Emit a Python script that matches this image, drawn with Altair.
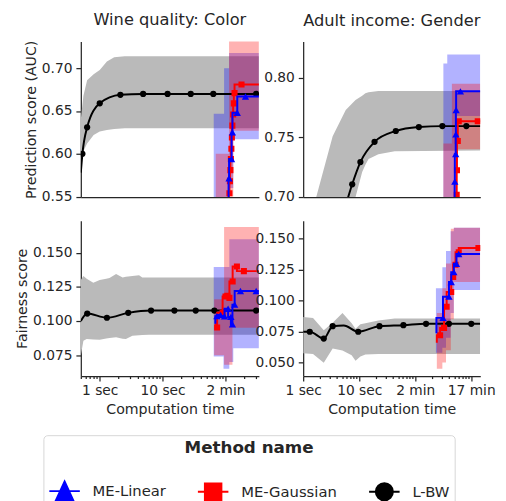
import altair as alt
import pandas as pd

FONT = "DejaVu Sans"
TXT = "#262626"

methods = ["ME-Linear", "ME-Gaussian", "L-BW"]
method_colors = ["#0000ff", "#ff0000", "#000000"]
legend_paths = [
    "M-1,0H1M0,-0.63L0.58,0.63L-0.58,0.63Z",
    "M-1,0H1M-0.54,-0.54H0.54V0.54H-0.54Z",
    "M-1,0H1M0.56,0A0.56,0.56,0,1,1,-0.56,0A0.56,0.56,0,1,1,0.56,0Z",
]

major_ticks = [1, 10, 100, 1000]
major_labels = ["1 sec", "10 sec", "2 min", "17 min"]
panel_titles = ["Wine quality: Color", "Adult income: Gender"]
y_titles = ["Prediction score (AUC)", "Fairness score"]
x_title = "Computation time"

# ---------------- Wine quality: prediction (top-left) ----------------
tl_gray_t = [0.5, 0.55, 0.63, 0.8, 1.0, 1.3, 1.7, 2.5, 340]
tl_gray_hi = [0.640, 0.668, 0.686, 0.693, 0.698, 0.708, 0.713, 0.714, 0.714]
tl_gray_lo = [0.595, 0.603, 0.612, 0.622, 0.626, 0.628, 0.629, 0.630, 0.630]
tl_lbw_t = [0.5, 0.53, 0.63, 1.0, 2.13, 4.9, 12, 28, 64, 308, 340]
tl_lbw_v = [0.578, 0.600, 0.631, 0.659, 0.669, 0.670, 0.670, 0.670, 0.670, 0.670, 0.670]
tl_lbw_m = [False, True, True, True, True, True, True, True, True, True, False]
tl_lin_band_t = [65, 95, 114, 133, 340]
tl_lin_band_lo = [0.50, 0.50, 0.56, 0.617, 0.617]
tl_lin_band_hi = [0.647, 0.700, 0.718, 0.718, 0.718]
tl_gau_band_t = [70, 114, 133, 340]
tl_gau_band_lo = [0.50, 0.55, 0.627, 0.627]
tl_gau_band_hi = [0.600, 0.745, 0.745, 0.745]
tl_lin_t = [112, 114, 125, 129, 154, 208, 340]
tl_lin_v = [0.52, 0.5715, 0.594, 0.625, 0.648, 0.667, 0.667]
tl_lin_m = [False, True, True, True, True, True, False]
tl_gau_t = [113, 115.5, 117.6, 119.7, 121.9, 124.1, 126.4, 128.7, 132.4, 135.8, 139.3, 179.8, 340]
tl_gau_v = [0.53, 0.554, 0.568, 0.581, 0.594, 0.606, 0.619, 0.633, 0.646, 0.659, 0.671, 0.681, 0.681]
tl_gau_m = [False] + [True] * 11 + [False]

# ---------------- Adult income: prediction (top-right) ----------------
tr_gray_t = [1.0, 1.71, 3.36, 5.75, 8.6, 11.3, 12.9, 14.7, 22, 43, 1450]
tr_gray_hi = [0.660, 0.700, 0.751, 0.773, 0.7814, 0.785, 0.787, 0.788, 0.789, 0.789, 0.789]
tr_gray_lo = [0.580, 0.620, 0.640, 0.670, 0.700, 0.721, 0.727, 0.732, 0.736, 0.7384, 0.739]
tr_lbw_t = [5.5, 7.5, 10.5, 18.8, 45, 116, 305, 817, 1450]
tr_lbw_v = [0.690, 0.7107, 0.7293, 0.7463, 0.7554, 0.7587, 0.7595, 0.7595, 0.7595]
tr_lbw_m = [False, True, True, True, True, True, True, True, False]
tr_lin_band_t = [318, 373, 489, 548, 1450]
tr_lin_band_lo = [0.65, 0.65, 0.65, 0.768, 0.768]
tr_lin_band_hi = [0.812, 0.8195, 0.8195, 0.8195, 0.8195]
tr_gau_band_t = [318, 451, 548, 1450]
tr_gau_band_lo = [0.65, 0.65, 0.740, 0.740]
tr_gau_band_hi = [0.745, 0.795, 0.795, 0.795]
tr_lin_t = [505, 509, 528, 532, 537, 641, 1450]
tr_lin_v = [0.68, 0.713, 0.736, 0.7526, 0.773, 0.7887, 0.7887]
tr_lin_m = [False, True, True, True, True, True, False]
tr_gau_t = [548, 550, 556, 575, 598, 1306, 1450]
tr_gau_v = [0.68, 0.702, 0.7225, 0.747, 0.7636, 0.7636, 0.7636]
tr_gau_m = [False, True, True, True, True, True, False]

# ---------------- Wine quality: fairness (bottom-left) ----------------
bl_gray_t = [0.5, 0.55, 0.62, 0.79, 1.0, 1.27, 1.43, 1.82, 2.31, 2.61, 3.31, 4.22, 4.75, 6.05, 340]
bl_gray_hi = [0.130, 0.133, 0.131, 0.128, 0.130, 0.131, 0.1315, 0.1344, 0.132, 0.1325, 0.133, 0.1335, 0.132, 0.132, 0.132]
bl_gray_lo = [0.0748, 0.0856, 0.0868, 0.0865, 0.0862, 0.0872, 0.0875, 0.0882, 0.0870, 0.0868, 0.0892, 0.0895, 0.0898, 0.0900, 0.0900]
bl_lbw_t = [0.5, 0.633, 1.30, 2.84, 6.55, 15.4, 33.6, 66.5, 308, 340]
bl_lbw_v = [0.100, 0.1055, 0.1024, 0.106, 0.1077, 0.1077, 0.1077, 0.1077, 0.1077, 0.1077]
bl_lbw_m = [False, True, True, True, True, True, True, True, True, False]
bl_lin_band_t = [65, 93, 115, 133, 340]
bl_lin_band_lo = [0.074, 0.065, 0.070, 0.080, 0.080]
bl_lin_band_hi = [0.1396, 0.1396, 0.160, 0.160, 0.160]
bl_gau_band_t = [66, 95, 129, 340]
bl_gau_band_lo = [0.075, 0.068, 0.095, 0.095]
bl_gau_band_hi = [0.116, 0.169, 0.169, 0.169]
bl_lin_t = [69, 73, 83.5, 96.5, 110, 122, 129, 140, 173, 308, 340]
bl_lin_v = [0.098, 0.1036, 0.1045, 0.1035, 0.109, 0.103, 0.0976, 0.112, 0.122, 0.122, 0.122]
bl_lin_m = [False, True, True, True, True, True, True, True, True, True, False]
bl_gau_t = [71, 73.6, 90, 100, 107, 115.5, 130, 152, 196, 340]
bl_gau_v = [0.100, 0.0952, 0.106, 0.118, 0.1185, 0.117, 0.129, 0.140, 0.1366, 0.1366]
bl_gau_m = [False, True, True, True, True, True, True, True, True, False]

# ---------------- Adult income: fairness (bottom-right) ----------------
br_gray_t = [1.0, 1.5, 2.33, 3.36, 5.03, 7.33, 8.6, 10.5, 12.9, 22, 43, 1438]
br_gray_hi = [0.0868, 0.086, 0.0762, 0.0821, 0.090, 0.0818, 0.0773, 0.081, 0.0818, 0.084, 0.0855, 0.0855]
br_gray_lo = [0.0575, 0.057, 0.0498, 0.0614, 0.0597, 0.056, 0.0516, 0.055, 0.0565, 0.0569, 0.0569, 0.0569]
br_lbw_t = [1.0, 1.31, 2.33, 3.36, 5.3, 9.6, 23, 61.5, 156, 400, 1000, 1438]
br_lbw_v = [0.0749, 0.0749, 0.0694, 0.0794, 0.0800, 0.0749, 0.0794, 0.0802, 0.0813, 0.0813, 0.0813, 0.0813]
br_lbw_m = [False, True, True, True, False, True, True, True, True, True, True, False]
br_lin_band_t = [234, 305, 354, 428, 489, 1438]
br_lin_band_lo = [0.058, 0.062, 0.070, 0.090, 0.1085, 0.1085]
br_lin_band_hi = [0.110, 0.127, 0.140, 0.156, 0.1587, 0.1587]
br_gau_band_t = [243, 305, 354, 432, 489, 1438]
br_gau_band_lo = [0.045, 0.050, 0.060, 0.085, 0.115, 0.115]
br_gau_band_hi = [0.090, 0.110, 0.130, 0.158, 0.1587, 0.1587]
br_lin_t = [239, 313, 400, 439, 489, 545, 598, 1438]
br_lin_v = [0.0736, 0.0861, 0.1032, 0.115, 0.123, 0.1297, 0.1376, 0.1376]
br_lin_m = [False, True, True, True, True, True, True, False]
br_gau_t = [243, 278, 327, 364, 439, 476, 524, 598, 1343, 1438]
br_gau_v = [0.066, 0.072, 0.078, 0.095, 0.107, 0.119, 0.129, 0.139, 0.1424, 0.1424]
br_gau_m = [False, True, True, True, True, True, True, True, True, False]


def line_df(t, v, m):
    return pd.DataFrame({"t": t, "v": v, "m": m})


def band_df(t, lo, hi):
    return pd.DataFrame({"t": t, "lo": lo, "hi": hi})


def minor_ticks(lo, hi):
    out = []
    for e in range(-1, 4):
        for k in range(2, 10):
            val = k * 10.0 ** e
            if lo <= val <= hi:
                out.append(val)
    return out


label_expr = " : ".join(
    f"datum.value == {v} ? '{l}'" for v, l in zip(major_ticks, major_labels)
) + " : ''"
major_test = "indexof([" + ",".join(str(v) for v in major_ticks) + "], datum.value) < 0"


def panel(xdom, ydom, yticks, yfmt, width, gray, lin_band, gau_band, lbw, lin, gau,
          bottom, ytitle, title=None, extra=None):
    xs = alt.Scale(type="log", domain=xdom, nice=False)
    ys = alt.Scale(domain=ydom, nice=False, zero=False)
    if bottom:
        vals = sorted([v for v in major_ticks if xdom[0] <= v <= xdom[1]] + minor_ticks(*xdom))
        xaxis = alt.Axis(values=vals, labelExpr=label_expr, title=x_title,
                         labelFlush=False, labelOverlap=False, labelPadding=3,
                         titlePadding=5, tickSize=5,
                         tickDash={"condition": {"test": major_test, "value": [2.5, 20]},
                                   "value": [6, 0]})
    else:
        xaxis = alt.Axis(labels=False, ticks=False, title=None, domain=True)
    yaxis = alt.Axis(values=yticks, format=yfmt, title=ytitle)
    X = alt.X("t:Q", scale=xs, axis=xaxis)

    def area(df, color, opacity, interp):
        return alt.Chart(df).mark_area(color=color, opacity=opacity, interpolate=interp,
                                       clip=True).encode(
            x=X, y=alt.Y("lo:Q", scale=ys, axis=yaxis), y2="hi:Q")

    def line(df, color, interp):
        return alt.Chart(df).mark_line(color=color, strokeWidth=2, interpolate=interp,
                                       clip=True).encode(
            x=X, y=alt.Y("v:Q", scale=ys, axis=yaxis))

    def pts(df, color, shape, size):
        return alt.Chart(df).transform_filter(alt.datum.m).mark_point(
            filled=True, color=color, shape=shape, size=size, opacity=1, clip=True).encode(
            x=X, y=alt.Y("v:Q", scale=ys, axis=yaxis))

    layers = [
        area(gray, "#bababa", 1, "linear"),
        area(lin_band, "#0000ff", 0.3, "step-after"),
        area(gau_band, "#ff0000", 0.3, "step-after"),
        line(lbw, "#000000", "monotone"),
        pts(lbw, "#000000", "circle", 40),
        line(gau, "#ff0000", "step-before"),
        pts(gau, "#ff0000", "square", 38),
        line(lin, "#0000ff", "step-before"),
        pts(lin, "#0000ff", "triangle-up", 55),
    ]
    if extra is not None:
        layers.append(extra)
    ch = alt.layer(*layers).properties(width=width, height=158)
    if title:
        ch = ch.properties(title=title)
    return ch


legend_spec = alt.Legend(
    title="Method name", orient="none", legendX=-38, legendY=400,
    direction="horizontal", columns=3, titleFontSize=17, titleFontWeight="bold",
    titleFont=FONT, titleColor=TXT, titleAnchor="middle", titleAlign="center",
    titlePadding=18, labelFontSize=15, labelFont=FONT, labelColor=TXT,
    labelOffset=12, columnPadding=28, symbolSize=961, symbolStrokeWidth=2,
    padding=5, strokeColor="#d6d6d6", cornerRadius=4, fillColor="white",
    labelLimit=300, titleLimit=400,
)
legend_df = pd.DataFrame({"method": methods})
legend_layer = alt.Chart(legend_df).transform_filter("false").mark_point(
    filled=True, strokeWidth=2, opacity=1).encode(
    fill=alt.Fill("method:N", scale=alt.Scale(domain=methods, range=method_colors), legend=legend_spec),
    stroke=alt.Stroke("method:N", scale=alt.Scale(domain=methods, range=method_colors), legend=legend_spec),
    shape=alt.Shape("method:N", scale=alt.Scale(domain=methods, range=legend_paths), legend=legend_spec),
)

tl = panel([0.5, 340], [0.5495, 0.7312], [0.55, 0.60, 0.65, 0.70], ".2f", 181,
           band_df(tl_gray_t, tl_gray_lo, tl_gray_hi),
           band_df(tl_lin_band_t, tl_lin_band_lo, tl_lin_band_hi),
           band_df(tl_gau_band_t, tl_gau_band_lo, tl_gau_band_hi),
           line_df(tl_lbw_t, tl_lbw_v, tl_lbw_m),
           line_df(tl_lin_t, tl_lin_v, tl_lin_m),
           line_df(tl_gau_t, tl_gau_v, tl_gau_m),
           False, y_titles[0], panel_titles[0])
tr = panel([1, 1450], [0.70, 0.8304], [0.70, 0.75, 0.80], ".2f", 180,
           band_df(tr_gray_t, tr_gray_lo, tr_gray_hi),
           band_df(tr_lin_band_t, tr_lin_band_lo, tr_lin_band_hi),
           band_df(tr_gau_band_t, tr_gau_band_lo, tr_gau_band_hi),
           line_df(tr_lbw_t, tr_lbw_v, tr_lbw_m),
           line_df(tr_lin_t, tr_lin_v, tr_lin_m),
           line_df(tr_gau_t, tr_gau_v, tr_gau_m),
           False, None, panel_titles[1])
bl = panel([0.5, 340], [0.0596, 0.1736], [0.075, 0.100, 0.125, 0.150], ".3f", 181,
           band_df(bl_gray_t, bl_gray_lo, bl_gray_hi),
           band_df(bl_lin_band_t, bl_lin_band_lo, bl_lin_band_hi),
           band_df(bl_gau_band_t, bl_gau_band_lo, bl_gau_band_hi),
           line_df(bl_lbw_t, bl_lbw_v, bl_lbw_m),
           line_df(bl_lin_t, bl_lin_v, bl_lin_m),
           line_df(bl_gau_t, bl_gau_v, bl_gau_m),
           True, y_titles[1])
br = panel([1, 1450], [0.0391, 0.1645], [0.050, 0.075, 0.100, 0.125, 0.150], ".3f", 180,
           band_df(br_gray_t, br_gray_lo, br_gray_hi),
           band_df(br_lin_band_t, br_lin_band_lo, br_lin_band_hi),
           band_df(br_gau_band_t, br_gau_band_lo, br_gau_band_hi),
           line_df(br_lbw_t, br_lbw_v, br_lbw_m),
           line_df(br_lin_t, br_lin_v, br_lin_m),
           line_df(br_gau_t, br_gau_v, br_gau_m),
           True, None, None, legend_layer)

chart = alt.concat(tl, tr, bl, br, columns=2, spacing={"row": 24, "column": 45},
                   bounds="flush").properties(
    padding={"left": 6, "top": 0, "right": 2, "bottom": 0}
).configure(font=FONT).configure_view(stroke=None).configure_axis(
    domainColor=TXT, domainWidth=1.25, tickColor=TXT, tickWidth=1.25, tickSize=5,
    labelColor=TXT, labelFontSize=14, labelFont=FONT, titleFont=FONT,
    titleFontSize=14.4, titleFontWeight="normal", titleColor=TXT, grid=False,
    labelPadding=4, titlePadding=3,
).configure_title(
    fontSize=16.5, font=FONT, fontWeight="normal", color=TXT, anchor="middle",
    baseline="alphabetic", offset=12,
)

chart.save("out.html", embed_options={"renderer": "svg", "actions": False})
